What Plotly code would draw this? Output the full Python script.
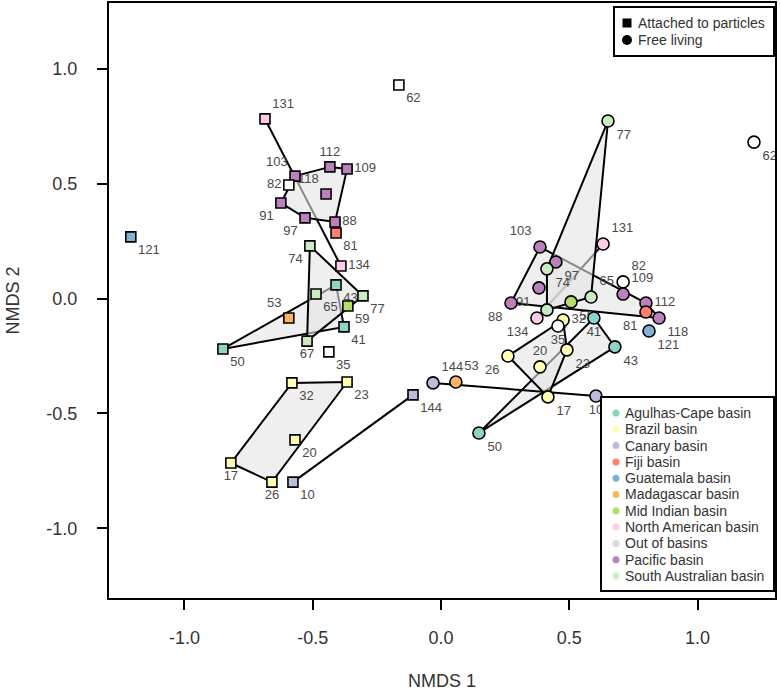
import plotly.graph_objects as go

# ---------------- data ----------------
basins = ["Agulhas-Cape basin", "Brazil basin", "Canary basin", "Fiji basin",
          "Guatemala basin", "Madagascar basin", "Mid Indian basin",
          "North American basin", "Out of basins", "Pacific basin",
          "South Australian basin"]
basin_colors = ["#8DD3C7", "#FFFFB3", "#BEBADA", "#FB8072", "#80B1D3", "#FDB462",
                "#B3DE69", "#FCCDE5", "#D9D9D9", "#BC80BD", "#CCEBC5"]

AG, BR, CA, FI, GU, MA, MI, NA, OU, PA, SA = basins

# Attached to particles (squares)
att_id = [121, 131, 62, 103, 112, 109, 82, 118, 91, 97, 88, 81, 74, 134, 43,
          65, 77, 59, 53, 41, 50, 67, 35, 32, 23, 20, 17, 26, 10, 144]
att_basin = [GU, NA, OU, PA, PA, PA, OU, PA, PA, PA, PA, FI, SA, NA, AG,
             SA, SA, MI, MA, AG, AG, SA, OU, BR, BR, BR, BR, BR, CA, CA]
att_x = [-1.209, -0.686, -0.164, -0.569, -0.433, -0.366, -0.593, -0.448, -0.624, -0.530,
         -0.413, -0.409, -0.511, -0.390, -0.409, -0.487, -0.304, -0.363, -0.593, -0.378,
         -0.850, -0.522, -0.437, -0.581, -0.366, -0.569, -0.819, -0.659, -0.577, -0.109]
att_y = [0.269, 0.783, 0.931, 0.534, 0.574, 0.565, 0.495, 0.456, 0.417, 0.352,
         0.334, 0.286, 0.230, 0.142, 0.060, 0.020, 0.012, -0.032, -0.084, -0.123,
         -0.219, -0.185, -0.232, -0.367, -0.363, -0.615, -0.716, -0.799, -0.799, -0.419]

# Free living (circles)
free_id = [62, 77, 131, 103, 97, 74, 82, 91, 109, 88, 59, 65, 112, 81, 118,
           121, 134, 67, 32, 35, 41, 43, 23, 26, 20, 17, 10, 50, 144, 53]
free_basin = [OU, SA, NA, PA, PA, SA, OU, PA, PA, PA, MI, SA, PA, FI, PA,
              GU, NA, SA, BR, OU, AG, AG, BR, BR, BR, BR, CA, AG, CA, MA]
free_x = [1.220, 0.651, 0.632, 0.386, 0.448, 0.413, 0.710, 0.382, 0.710, 0.273,
          0.507, 0.585, 0.799, 0.799, 0.850, 0.811, 0.374, 0.413, 0.476, 0.456,
          0.596, 0.678, 0.491, 0.261, 0.386, 0.417, 0.604, 0.148, -0.031, 0.058]
free_y = [0.682, 0.774, 0.238, 0.225, 0.160, 0.130, 0.073, 0.047, 0.020, -0.019,
          -0.014, 0.007, -0.019, -0.058, -0.084, -0.141, -0.084, -0.049, -0.093, -0.119,
          -0.084, -0.210, -0.223, -0.250, -0.297, -0.428, -0.424, -0.585, -0.367, -0.363]

tick_vals = [-1.0, -0.5, 0.0, 0.5, 1.0]
tick_text = ["-1.0", "-0.5", "0.0", "0.5", "1.0"]

shape_legend = ["Attached to particles", "Free living"]

# ---------------- styles ----------------
att_textpos = ["bottom right", "top right", "bottom right", "top left", "top center",
               "middle right", "middle left", "top left", "bottom left", "bottom left",
               "middle right", "bottom right", "bottom left", "middle right", "bottom right",
               "bottom right", "bottom right", "bottom right", "top left", "bottom right",
               "bottom right", "bottom center", "bottom right", "bottom right", "bottom right",
               "bottom right", "bottom center", "bottom center", "bottom right", "bottom right"]
free_textpos = ["bottom right", "bottom right", "top right", "top left", "bottom right",
                "bottom right", "top right", "bottom left", "top right", "bottom left",
                "bottom right", "top right", "middle right", "bottom left", "bottom right",
                "bottom right", "bottom left", "bottom right", "middle right", "bottom center",
                "bottom center", "bottom right", "bottom right", "bottom left", "top center",
                "bottom right", "bottom center", "bottom right", "top right", "top right"]

color_of = dict(zip(basins, basin_colors))
marker_color_of = dict(color_of)
marker_color_of[OU] = "#FFFFFF"
HULL_FILL = "rgba(228,228,228,0.6)"
FONT = "Liberation Sans, Arial, Helvetica, sans-serif"


def convex_hull(points):
    pts = sorted(set(points))
    if len(pts) <= 2:
        return pts

    def cross(o, a, b):
        return (a[0] - o[0]) * (b[1] - o[1]) - (a[1] - o[1]) * (b[0] - o[0])

    lower = []
    for p in pts:
        while len(lower) >= 2 and cross(lower[-2], lower[-1], p) <= 0:
            lower.pop()
        lower.append(p)
    upper = []
    for p in reversed(pts):
        while len(upper) >= 2 and cross(upper[-2], upper[-1], p) <= 0:
            upper.pop()
        upper.append(p)
    return lower[:-1] + upper[:-1]


fig = go.Figure()

fractions = [
    (att_id, att_basin, att_x, att_y, "square", 10, att_textpos),
    (free_id, free_basin, free_x, free_y, "circle", 12, free_textpos),
]

# hulls
for ids, bas, xs, ys, sym, size, tpos in fractions:
    for b in basins:
        if b == OU:
            continue
        pts = [(x, y) for x, y, bb in zip(xs, ys, bas) if bb == b]
        if len(pts) < 2:
            continue
        hull = convex_hull(pts)
        hx = [p[0] for p in hull]
        hy = [p[1] for p in hull]
        if len(hull) >= 3:
            hx.append(hx[0])
            hy.append(hy[0])
            fig.add_trace(go.Scatter(x=hx, y=hy, mode="lines", fill="toself",
                                     fillcolor=HULL_FILL,
                                     line=dict(color="black", width=2),
                                     hoverinfo="skip", showlegend=False))
        else:
            fig.add_trace(go.Scatter(x=hx, y=hy, mode="lines",
                                     line=dict(color="black", width=2),
                                     hoverinfo="skip", showlegend=False))

# labels
for ids, bas, xs, ys, sym, size, tpos in fractions:
    fig.add_trace(go.Scatter(x=xs, y=ys, mode="markers+text",
                             text=[str(i) for i in ids], textposition=tpos,
                             textfont=dict(size=13, color="#4a4a4a", family=FONT),
                             marker=dict(size=size, color="rgba(0,0,0,0)"),
                             hoverinfo="skip", showlegend=False))

# markers
for ids, bas, xs, ys, sym, size, tpos in fractions:
    fig.add_trace(go.Scatter(x=xs, y=ys, mode="markers",
                             marker=dict(symbol=sym, size=size,
                                         color=[marker_color_of[b] for b in bas],
                                         line=dict(color="black", width=1.6)),
                             text=[f"{i} ({b})" for i, b in zip(ids, bas)],
                             hoverinfo="text", showlegend=False))

# ---------------- layout ----------------
L, R, T, B = 109, 6, 3, 93
W, H = 781, 691
PW, PH = W - L - R, H - T - B


def pxx(px):
    return (px - L) / PW


def pxy(py):
    return (H - B - py) / PH


shapes = []
annotations = []

# basin legend (bottom right)
shapes.append(dict(type="rect", xref="paper", yref="paper",
                   x0=pxx(601), x1=pxx(774), y0=pxy(591), y1=pxy(397),
                   line=dict(color="black", width=2), fillcolor="white", layer="above"))
for i, (name, col) in enumerate(zip(basins, basin_colors)):
    yc = pxy(413 + 16.3 * i)
    shapes.append(dict(type="circle", xref="paper", yref="paper",
                       xsizemode="pixel", ysizemode="pixel",
                       xanchor=pxx(616), yanchor=yc, x0=-3.5, x1=3.5, y0=-3.5, y1=3.5,
                       fillcolor=col, line=dict(width=0), layer="above"))
    annotations.append(dict(xref="paper", yref="paper", x=pxx(623), y=yc,
                            text=name, showarrow=False, xanchor="left", yanchor="middle",
                            font=dict(size=14, color="#333333", family=FONT)))

# shape legend (top right)
shapes.append(dict(type="rect", xref="paper", yref="paper",
                   x0=pxx(614), x1=pxx(774), y0=pxy(56), y1=pxy(7),
                   line=dict(color="black", width=2), fillcolor="white", layer="above"))
for i, (name, stype) in enumerate(zip(shape_legend, ["rect", "circle"])):
    yc = pxy(23 + 17 * i)
    r = 4.5 if stype == "rect" else 5
    shapes.append(dict(type=stype, xref="paper", yref="paper",
                       xsizemode="pixel", ysizemode="pixel",
                       xanchor=pxx(627), yanchor=yc, x0=-r, x1=r, y0=-r, y1=r,
                       fillcolor="black", line=dict(width=0), layer="above"))
    annotations.append(dict(xref="paper", yref="paper", x=pxx(636), y=yc,
                            text=name, showarrow=False, xanchor="left", yanchor="middle",
                            font=dict(size=14, color="#333333", family=FONT)))

axis_common = dict(showline=True, mirror=True, linecolor="black", linewidth=2,
                   ticks="outside", ticklen=10, tickwidth=2, tickcolor="black",
                   showgrid=False, zeroline=False, tickvals=tick_vals, ticktext=tick_text,
                   tickfont=dict(size=18, color="#333333", family=FONT))

fig.update_layout(
    width=W, height=H,
    margin=dict(l=L, r=R, t=T, b=B, autoexpand=False),
    paper_bgcolor="white", plot_bgcolor="white",
    showlegend=False,
    xaxis=dict(range=[-1.294, 1.302], title=dict(text="NMDS 1", standoff=28,
               font=dict(size=18, color="#333333", family=FONT)),
               ticklabelstandoff=12, **axis_common),
    yaxis=dict(range=[-1.304, 1.288], title=dict(text="NMDS 2", standoff=22,
               font=dict(size=18, color="#333333", family=FONT)),
               ticklabelstandoff=16, **axis_common),
    shapes=shapes,
    annotations=annotations,
)

fig.write_html("out.html", config={"displayModeBar": False},
               post_script="document.body.style.margin='0px';")
